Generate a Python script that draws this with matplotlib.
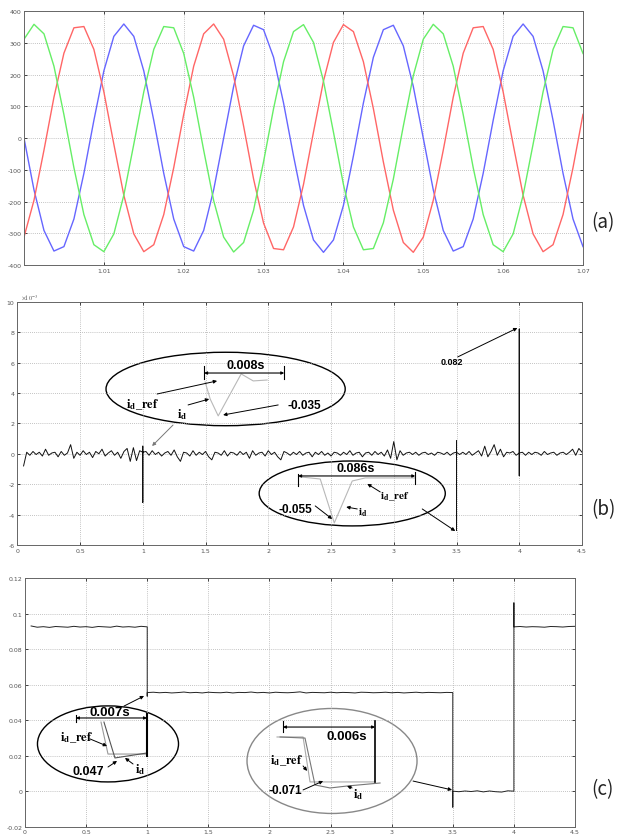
import numpy as np
import matplotlib
matplotlib.use("Agg")
import matplotlib.pyplot as plt
from matplotlib.patches import Ellipse

plt.rcParams['mathtext.fontset'] = 'stix'

# ========== 1. Data ==========
# (a) three phase voltages, one sample every 1.25 ms from t = 1.0 s
va_start = 1.0
va_step = 0.00125
phase_blue = [0, -163, -291, -356, -342, -255, -111, 56, 212, 321,
              360, 321, 212, 56, -111, -255, -342, -356, -291, -163,
              0, 163, 291, 356, 342, 255, 111, -56, -212, -321,
              -360, -321, -212, -56, 111, 255, 342, 356, 291, 163,
              0, -163, -291, -356, -342, -255, -111, 56, 212, 321,
              360, 321, 212, 56, -111, -255, -342]
phase_red = [-312, -196, -38, 129, 268, 348, 352, 280, 146, -19,
             -180, -302, -358, -336, -241, -93, 75, 227, 329, 360,
             312, 196, 38, -129, -268, -348, -352, -280, -146, 19,
             180, 302, 358, 336, 241, 93, -75, -227, -329, -360,
             -312, -196, -38, 129, 268, 348, 352, 280, 146, -19,
             -180, -302, -358, -336, -241, -93, 75]
phase_green = [312, 359, 329, 227, 74, -93, -241, -336, -358, -302,
               -180, -19, 146, 280, 352, 348, 267, 129, -38, -197,
               -312, -359, -329, -227, -74, 93, 241, 336, 358, 302,
               180, 19, -146, -280, -352, -348, -267, -129, 38, 197,
               312, 359, 329, 227, 74, -93, -241, -336, -358, -302,
               -180, -19, 146, 280, 352, 348, 267]

# (b) current error (x1e-3), ripple every 25 ms from t = 0.05 s
err_start = 0.05
err_step = 0.025
err_ripple = [-0.8, 0.1, -0.1, 0.15, -0.05, 0.1, -0.15, 0.3, -0.1, 0.05,
              0.1, -0.2, 0.15, -0.1, 0.05, 0.6, -0.3, 0.1, -0.1, 0.2,
              -0.05, 0.1, -0.25, 0.15, 0.0, 0.3, -0.15, 0.05, 0.2, -0.1,
              0.1, -0.3, 0.15, 0.35, -0.5, 0.4, -0.45, 0.2, 0.1, 0.15,
              -0.1, 0.2, -0.05, 0.1, -0.15, 0.05, 0.15, -0.1, 0.25, -0.2,
              -0.5, 0.1, 0.05, -0.15, 0.2, -0.1, 0.1, -0.05, 0.15, -0.2,
              -0.4, 0.1, 0.05, -0.1, 0.2, -0.15, 0.1, 0.05, -0.1, 0.15,
              -0.05, 0.1, -0.3, 0.2, -0.1, 0.05, 0.1, -0.15, 0.2, -0.05,
              0.1, -0.2, -0.4, 0.15, 0.05, -0.1, 0.1, -0.05, 0.15, -0.1,
              0.05, 0.1, -0.2, 0.1, -0.05, 0.15, -0.1, 0.05, -0.15, 0.1,
              0.05, -0.1, 0.1, -0.05, 0.2, -0.1, 0.05, 0.1, -0.2, 0.05,
              0.1, -0.1, 0.15, -0.05, 0.1, -0.15, 0.25, -0.3, 0.8, -0.4,
              0.2, -0.1, 0.05, 0.1, -0.05, 0.1, -0.1, 0.05, 0.1, -0.05,
              0.05, -0.1, 0.1, 0.05, -0.05, 0.1, -0.1, 0.05, 0.1, -0.05,
              0.1, -0.05, 0.15, -0.1, 0.05, 0.2, -0.15, 0.5, -0.2, 0.15,
              0.6, -0.1, 0.3, -0.2, 0.1, 0.05, 0.15, -0.1, 0.05, 0.1,
              -0.1, 0.1, -0.05, 0.1, 0.05, -0.1, 0.15, -0.05, 0.05, 0.1,
              -0.1, 0.05, 0.1, -0.05, 0.1, 0.3, -0.1, 0.35, 0.1]
err_levels = [0.0, 0.0, 0.0, 0.0]
err_event_t = [1.0, 3.5, 4.0]
err_event_vals = [[0.5, -3.2], [0.85, -5.05], [8.2, -1.45]]

# (c) d-axis current, ripple (x1e-3) every 50 ms from t = 0.05 s
id_start = 0.05
id_step = 0.05
id_levels = [0.0925, 0.0555, 0.0, 0.0925]
id_ripple = [0.5, -0.2, 0.1, -0.3, 0.2, 0.0, -0.2, 0.3, -0.1, 0.1,
             -0.3, 0.2, 0.0, -0.2, 0.4, -0.1, 0.1, -0.2, 0.3, 0.0,
             0.2, -0.1, 0.1, -0.2, 0.0, 0.3, -0.1, 0.1, -0.2, 0.2,
             0.0, -0.1, 0.2, -0.2, 0.1, 0.0, 0.3, -0.1, 0.1, -0.2,
             0.2, 0.0, -0.1, 0.1, 0.4, -0.2, 0.1, 0.0, -0.1, 0.2,
             -0.1, 0.1, 0.0, -0.2, 0.2, 0.1, -0.1, 0.0, 0.2, -0.1,
             0.1, -0.2, 0.0, 0.2, -0.1, 0.1, 0.0, -0.1, 0.1, 0.0,
             -0.3, 0.1, -0.2, 0.2, -0.4, 0.1, -0.3, -0.5, 0.2, 0.0,
             0.2, -0.1, 0.1, 0.0, -0.2, 0.2, 0.1, -0.1, 0.2, 0.3]
id_event_t = [1.0, 3.5, 4.0]
id_event_vals = [[0.0535], [-0.009], [0.106]]

# zoomed inset sketches drawn inside the ellipses (axes data units)
inset_b1_t = [1.497, 1.537, 1.601, 1.784, 1.880, 1.991]
inset_b1_v = [4.72, 3.60, 2.49, 5.25, 4.79, 4.85]
inset_b2_t = [2.254, 2.414, 2.526, 2.669, 2.773, 3.172]
inset_b2_v = [-1.52, -1.66, -4.55, -1.79, -1.59, -1.59]
inset_c1_ref_t = [0.622, 0.679, 0.998]
inset_c1_ref_v = [0.0389, 0.0209, 0.0209]
inset_c1_t = [0.646, 0.736, 0.998]
inset_c1_v = [0.0389, 0.0187, 0.0215]
inset_c2_ref_t = [2.062, 2.275, 2.332, 2.864]
inset_c2_ref_v = [0.0305, 0.0305, 0.0052, 0.0052]
inset_c2_t = [2.087, 2.291, 2.373, 2.496, 2.635, 2.905]
inset_c2_v = [0.0305, 0.0299, 0.0035, 0.0018, 0.0029, 0.0046]

ID_REF = r'$\mathbf{i_d\_ref}$'
ID = r'$\mathbf{i_d}$'


# ========== 2. Helpers ==========
def build_trace(t0, step, ripple, scale, levels, event_t, event_vals):
    """Step levels plus ripple, with vertical excursions at event times"""
    ts, vs = [], []
    seg = 0
    for i, r in enumerate(ripple):
        t = round(t0 + step * i, 4)
        if seg < len(event_t) and abs(t - event_t[seg]) < 1e-9:
            ts.append(t)
            vs.append(levels[seg] + r * scale)
            for v in event_vals[seg]:
                ts.append(t)
                vs.append(v)
            seg += 1
        ts.append(t)
        vs.append(levels[seg] + r * scale)
    return ts, vs


def style_axes(ax, xticks, yticks):
    ax.set_xticks(xticks)
    ax.set_xticklabels(['{:g}'.format(x) for x in xticks])
    ax.set_yticks(yticks)
    ax.set_yticklabels(['{:g}'.format(y) for y in yticks])
    ax.grid(True, color='#b0b0b0', linestyle=(0, (1, 1.5)), linewidth=0.6)
    ax.tick_params(direction='in', length=2.5, width=0.5, labelsize=4.5,
                   labelcolor='#555555', top=True, right=True, pad=2)
    for spine in ax.spines.values():
        spine.set_color('#666666')
        spine.set_linewidth(0.7)


def arrow(ax, start, end, color='k'):
    ax.annotate('', xy=end, xytext=start,
                arrowprops=dict(arrowstyle='-|>', color=color, lw=0.7,
                                mutation_scale=5, shrinkA=0, shrinkB=0))


def dim_bar(ax, x0, x1, y, tick_l, tick_r, lw_r=0.8):
    ax.annotate('', xy=(x1, y), xytext=(x0, y),
                arrowprops=dict(arrowstyle='<|-|>', color='k', lw=0.8,
                                mutation_scale=4, shrinkA=0, shrinkB=0))
    ax.plot([x0, x0], tick_l, color='k', lw=0.8)
    ax.plot([x1, x1], tick_r, color='k', lw=lw_r)


def num(ax, x, y, s, size, va='center', ha='left'):
    ax.text(x, y, s, fontsize=size, fontweight='bold', family='Liberation Sans',
            va=va, ha=ha)


def sym(ax, x, y, s, size=9):
    ax.text(x, y, s, fontsize=size, va='center', ha='left')


# ========== 3. Figure ==========
fig = plt.figure(figsize=(6.19, 8.37), dpi=100)
W, H = 619.0, 837.0


def add_axes_px(left, top, right, bottom):
    return fig.add_axes([left / W, 1 - bottom / H, (right - left) / W, (bottom - top) / H])


# ---- (a) ----
ax_a = add_axes_px(24, 12.3, 583, 266)
t_a = va_start + va_step * np.arange(len(phase_blue))
ax_a.plot(t_a, phase_blue, color='#6666ff', lw=1.0)
ax_a.plot(t_a, phase_red, color='#ff6666', lw=1.0)
ax_a.plot(t_a, phase_green, color='#66ee66', lw=1.0)
ax_a.set_xlim(1.0, 1.07)
ax_a.set_ylim(-400, 400)
style_axes(ax_a, [1.01, 1.02, 1.03, 1.04, 1.05, 1.06, 1.07], list(range(-400, 401, 100)))

# ---- (b) ----
ax_b = add_axes_px(17.3, 302.7, 582, 546)
tb, vb = build_trace(err_start, err_step, err_ripple, 1.0, err_levels, err_event_t, err_event_vals)
ax_b.plot(tb, vb, color='#111111', lw=0.7)
ax_b.set_xlim(0, 4.5)
ax_b.set_ylim(-6, 10)
style_axes(ax_b, list(np.arange(0, 4.51, 0.5)), list(range(-6, 11, 2)))
ax_b.text(0.006, 1.003, r'$\times10^{-3}$', transform=ax_b.transAxes, fontsize=4.5,
          color='#555555', va='bottom')

ax_b.add_patch(Ellipse((1.66, 4.26), 1.906, 4.83, fill=False, ec='k', lw=1.0))
ax_b.plot(inset_b1_t, inset_b1_v, color='#b8b8b8', lw=0.8)
dim_bar(ax_b, 1.489, 2.127, 5.31, (4.92, 5.77), (4.92, 5.77))
num(ax_b, 1.821, 5.42, '0.008s', 9, va='bottom', ha='center')
sym(ax_b, 0.867, 3.27, ID_REF)
sym(ax_b, 1.273, 2.62, ID)
num(ax_b, 2.15, 3.21, '-0.035', 8.5)
arrow(ax_b, (1.114, 3.93), (1.592, 4.79))
arrow(ax_b, (1.361, 3.21), (1.529, 3.60))
arrow(ax_b, (2.079, 3.21), (1.640, 2.55))
arrow(ax_b, (1.241, 1.89), (1.074, 0.51), color='#777777')
num(ax_b, 3.371, 6.04, '0.082', 6.5)
arrow(ax_b, (3.51, 6.37), (3.985, 8.27))

ax_b.add_patch(Ellipse((2.669, -2.61), 1.483, 4.27, fill=False, ec='k', lw=1.0))
ax_b.plot(inset_b2_t, inset_b2_v, color='#b8b8b8', lw=0.8)
dim_bar(ax_b, 2.238, 3.171, -1.46, (-2.12, -1.33), (-1.99, -1.20))
num(ax_b, 2.693, -1.34, '0.086s', 9, va='bottom', ha='center')
num(ax_b, 2.079, -3.63, '-0.055', 8.5)
sym(ax_b, 2.892, -2.77, ID_REF, 8)
sym(ax_b, 2.717, -3.83, ID, 8)
arrow(ax_b, (2.374, -3.43), (2.509, -4.29))
arrow(ax_b, (2.892, -2.51), (2.789, -1.98))
arrow(ax_b, (2.709, -3.63), (2.621, -3.50))
arrow(ax_b, (3.227, -3.63), (3.49, -5.08))

# ---- (c) ----
ax_c = add_axes_px(25, 579, 575, 827.7)
tc, vc = build_trace(id_start, id_step, id_ripple, 1e-3, id_levels, id_event_t, id_event_vals)
ax_c.plot(tc, vc, color='#222222', lw=0.7)
ax_c.set_xlim(0, 4.5)
ax_c.set_ylim(-0.02, 0.12)
style_axes(ax_c, list(np.arange(0, 4.51, 0.5)), [-0.02, 0, 0.02, 0.04, 0.06, 0.08, 0.1, 0.12])

ax_c.add_patch(Ellipse((0.679, 0.0266), 1.154, 0.0428, fill=False, ec='k', lw=1.0))
ax_c.plot(inset_c1_ref_t, inset_c1_ref_v, color='#999999', lw=0.8)
ax_c.plot(inset_c1_t, inset_c1_v, color='#555555', lw=0.8)
dim_bar(ax_c, 0.417, 0.998, 0.0412, (0.0389, 0.0429), (0.0198, 0.0434), lw_r=1.5)
num(ax_c, 0.696, 0.0414, '0.007s', 9.5, va='bottom', ha='center')
sym(ax_c, 0.286, 0.0305, ID_REF)
num(ax_c, 0.385, 0.0114, '0.047', 9)
sym(ax_c, 0.900, 0.0125, ID)
arrow(ax_c, (0.532, 0.0294), (0.671, 0.0254))
arrow(ax_c, (0.679, 0.0136), (0.753, 0.0170))
arrow(ax_c, (0.884, 0.0153), (0.818, 0.0187))
arrow(ax_c, (0.810, 0.0479), (0.974, 0.0536))

ax_c.add_patch(Ellipse((2.512, 0.0170), 1.391, 0.0591, fill=False, ec='#888888', lw=1.0))
ax_c.plot(inset_c2_ref_t, inset_c2_ref_v, color='#aaaaaa', lw=0.8)
ax_c.plot(inset_c2_t, inset_c2_v, color='#777777', lw=0.8)
dim_bar(ax_c, 2.111, 2.864, 0.0361, (0.0333, 0.0395), (0.0052, 0.0395), lw_r=1.2)
num(ax_c, 2.631, 0.0311, '0.006s', 9.5, ha='center')
sym(ax_c, 2.005, 0.0175, ID_REF)
num(ax_c, 1.989, 0.0007, '-0.071', 8.5)
sym(ax_c, 2.684, -0.0016, ID)
arrow(ax_c, (2.275, 0.0142), (2.308, 0.0114))
arrow(ax_c, (2.275, 0.0007), (2.439, 0.0057))
arrow(ax_c, (2.676, 0.0018), (2.635, 0.0029))
arrow(ax_c, (3.175, 0.0057), (3.494, 0.0007))

# panel labels
for label, y in [('(a)', 223), ('(b)', 510), ('(c)', 790)]:
    fig.text(591 / W, 1 - y / H, label, fontsize=13.5, family=['Noto Sans CJK KR', 'DejaVu Sans'],
             va='center', ha='left', color='#222222')

fig.savefig('out.png', dpi=100)
